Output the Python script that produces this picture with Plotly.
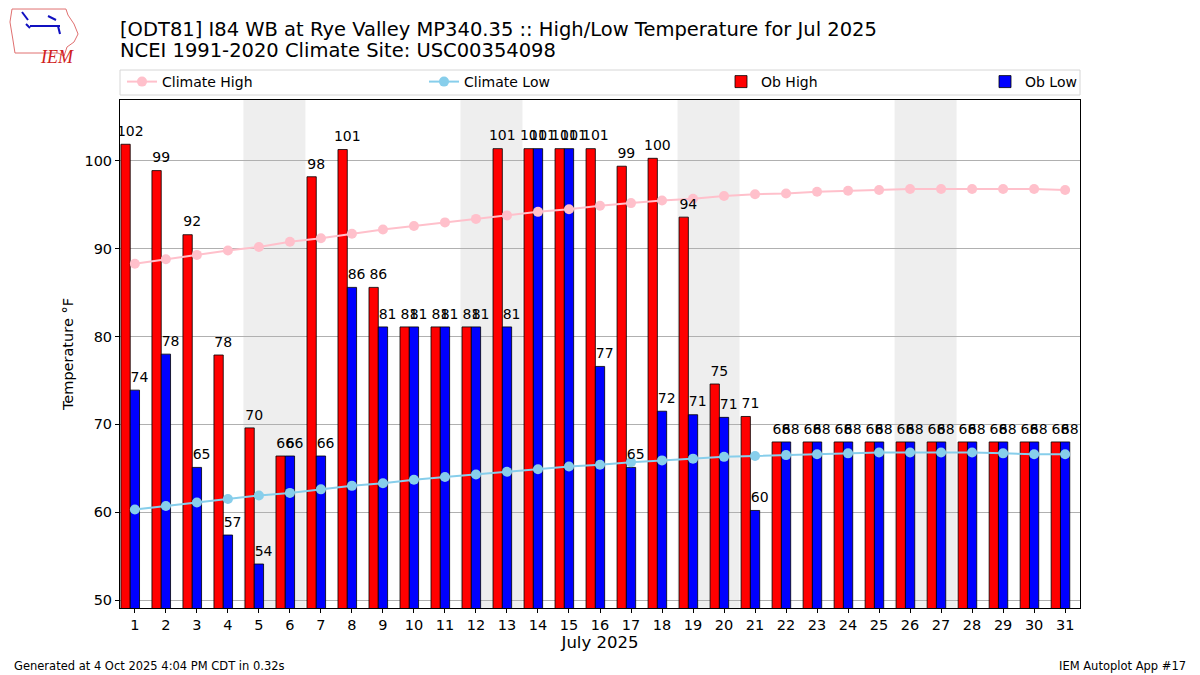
import plotly.graph_objects as go

# July 2025 daily values (deg F)
days = list(range(1, 32))
ob_high = [101.9, 98.9, 91.6, 77.9, 69.6, 66.4, 98.2, 101.3, 85.6, 81.1,
           81.1, 81.1, 101.4, 101.4, 101.4, 101.4, 99.4, 100.3, 93.6, 74.6,
           70.9, 68.0, 68.0, 68.0, 68.0, 68.0, 68.0, 68.0, 68.0, 68.0, 68.0]
ob_low = [73.9, 78.0, 65.1, 57.4, 54.1, 66.4, 66.4, 85.6, 81.1, 81.1,
          81.1, 81.1, 81.1, 101.4, 101.4, 76.6, 65.1, 71.5, 71.1, 70.8,
          60.2, 68.0, 68.0, 68.0, 68.0, 68.0, 68.0, 68.0, 68.0, 68.0, 68.0]
climate_high = [88.3, 88.8, 89.3, 89.8, 90.2, 90.8, 91.2, 91.7, 92.2, 92.6,
                93.0, 93.4, 93.8, 94.2, 94.5, 94.9, 95.2, 95.5, 95.7, 96.0,
                96.2, 96.3, 96.5, 96.6, 96.7, 96.8, 96.8, 96.8, 96.8, 96.8, 96.7]
climate_low = [60.3, 60.7, 61.1, 61.5, 61.9, 62.2, 62.6, 63.0, 63.3, 63.7,
               64.0, 64.3, 64.6, 64.9, 65.2, 65.4, 65.7, 65.9, 66.1, 66.3,
               66.4, 66.5, 66.6, 66.7, 66.8, 66.8, 66.8, 66.8, 66.7, 66.6, 66.6]
# Saturdays in July 2025 (weekend shading covers Sat+Sun)
saturdays = [5, 12, 19, 26]

title_lines = ["[ODT81] I84 WB at Rye Valley MP340.35 :: High/Low Temperature for Jul 2025",
               "NCEI 1991-2020 Climate Site: USC00354098"]

# plot area in pixels: x 120..1080, y 100..608
PL, PR, PT, PB = 120, 1080, 100, 608


def px(x, y):
    # pixel -> paper coords
    return (x - PL) / (PR - PL), (PB - y) / (PB - PT)


fig = go.Figure()

fig.add_trace(go.Bar(
    x=days, y=ob_high, name="Ob High", width=0.3, offset=-0.45, legend="legend3",
    marker=dict(color="red", line=dict(color="black", width=0.8)),
))
fig.add_trace(go.Bar(
    x=days, y=ob_low, name="Ob Low", width=0.3, offset=-0.15, legend="legend4",
    marker=dict(color="blue", line=dict(color="black", width=0.8)),
))
fig.add_trace(go.Scatter(
    x=days, y=climate_high, name="Climate High", mode="lines+markers", legend="legend",
    line=dict(color="pink", width=2), marker=dict(color="pink", size=10),
))
fig.add_trace(go.Scatter(
    x=days, y=climate_low, name="Climate Low", mode="lines+markers", legend="legend2",
    line=dict(color="skyblue", width=2), marker=dict(color="skyblue", size=10),
))

# value labels above the bars (invisible markers just push the text up a bit)
fig.add_trace(go.Scatter(
    x=[d - 0.15 for d in days], y=ob_high, mode="markers+text",
    marker=dict(size=6, opacity=0),
    text=[f"{v:.0f}" for v in ob_high], textposition="top center",
    textfont=dict(size=14, color="black"), showlegend=False, hoverinfo="skip",
))
fig.add_trace(go.Scatter(
    x=[d + 0.15 for d in days], y=ob_low, mode="markers+text",
    marker=dict(size=6, opacity=0),
    text=[f"{v:.0f}" for v in ob_low], textposition="top center",
    textfont=dict(size=14, color="black"), showlegend=False, hoverinfo="skip",
))

for sat in saturdays:
    fig.add_vrect(x0=sat - 0.5, x1=sat + 1.5, fillcolor="#eeeeee", opacity=1,
                  line_width=0, layer="below")

leg_y = px(0, 82)[1]
legend_common = dict(orientation="h", xanchor="left", y=leg_y, yanchor="middle",
                     bgcolor="rgba(0,0,0,0)", borderwidth=0, font=dict(size=14))

fig.update_layout(
    width=1200, height=675,
    margin=dict(l=PL, r=1200 - PR, t=PT, b=675 - PB, autoexpand=False),
    paper_bgcolor="white", plot_bgcolor="white",
    font=dict(family="DejaVu Sans", size=14, color="black"),
    barmode="overlay",
    legend=dict(x=px(122, 0)[0], **legend_common),
    legend2=dict(x=px(424, 0)[0], **legend_common),
    legend3=dict(x=px(721, 0)[0], **legend_common),
    legend4=dict(x=px(985, 0)[0], **legend_common),
    showlegend=True,
)

# two-line title
for line, yc in zip(title_lines, [29, 51]):
    tx, ty = px(PL - 2, yc)
    fig.add_annotation(text=line, xref="paper", yref="paper", x=tx, y=ty,
                       xanchor="left", yanchor="middle", showarrow=False,
                       font=dict(size=19.5))

# legend frame
x0, y0 = px(120, 70)
x1, y1 = px(1080, 95)
fig.add_shape(type="rect", xref="paper", yref="paper", x0=x0, y0=y0, x1=x1, y1=y1,
              line=dict(color="#d6d6d6", width=1), fillcolor="white", layer="below")

fig.update_xaxes(
    range=[0.52, 31.48], tickmode="array", tickvals=days, ticktext=[str(d) for d in days],
    showgrid=False, zeroline=False, showline=True, linecolor="black", linewidth=1,
    mirror=True, ticks="outside", ticklen=4, tickcolor="black", automargin=False,
    tickfont=dict(size=14.5),
    title=dict(text="July 2025", font=dict(size=16.5), standoff=3),
)
fig.update_yaxes(
    range=[49.09, 106.94], tickvals=[50, 60, 70, 80, 90, 100],
    showgrid=True, gridcolor="#b0b0b0", gridwidth=1, zeroline=False,
    showline=True, linecolor="black", linewidth=1, mirror=True,
    ticks="outside", ticklen=4, tickcolor="black", automargin=False,
    tickfont=dict(size=14.5),
    title=dict(text="Temperature °F", font=dict(size=14.5), standoff=7),
)

fx, fy = px(12, 666)
fig.add_annotation(text="Generated at 4 Oct 2025 4:04 PM CDT in 0.32s",
                   xref="paper", yref="paper", x=fx, y=fy,
                   xanchor="left", yanchor="middle", showarrow=False,
                   font=dict(size=11.5))
fx, fy = px(1188, 666)
fig.add_annotation(text="IEM Autoplot App #17",
                   xref="paper", yref="paper", x=fx, y=fy,
                   xanchor="right", yanchor="middle", showarrow=False,
                   font=dict(size=11.5))

# rough IEM logo: state outline, station glyph and letters
outline = [(12, 9), (66, 9), (68, 15), (74, 24), (78, 34), (74, 42), (67, 47),
           (64, 56), (58, 53), (15, 53), (13, 40), (10, 22)]
path = "M " + " L ".join(f"{px(a, b)[0]:.4f} {px(a, b)[1]:.4f}" for a, b in outline) + " Z"
fig.add_shape(type="path", xref="paper", yref="paper", path=path,
              line=dict(color="#e07070", width=1), fillcolor="white")
for (a, b), (c, d) in [((30, 26), (60, 26)), ((22, 12), (28, 20)), ((48, 16), (56, 20)),
                       ((58, 26), (60, 34)), ((26, 24), (30, 28))]:
    xa, ya = px(a, b)
    xc, yc = px(c, d)
    fig.add_shape(type="line", xref="paper", yref="paper", x0=xa, y0=ya, x1=xc, y1=yc,
                  line=dict(color="#1010c0", width=2))
lx, ly = px(38, 45)
fig.add_annotation(text="<i>IEM</i>", xref="paper", yref="paper", x=lx, y=ly,
                   showarrow=False, font=dict(family="Liberation Serif", size=18, color="#d02020"))

fig.write_html("out.html", config={"displayModeBar": False},
               post_script="document.body.style.margin='0px';document.body.style.overflow='hidden';")
